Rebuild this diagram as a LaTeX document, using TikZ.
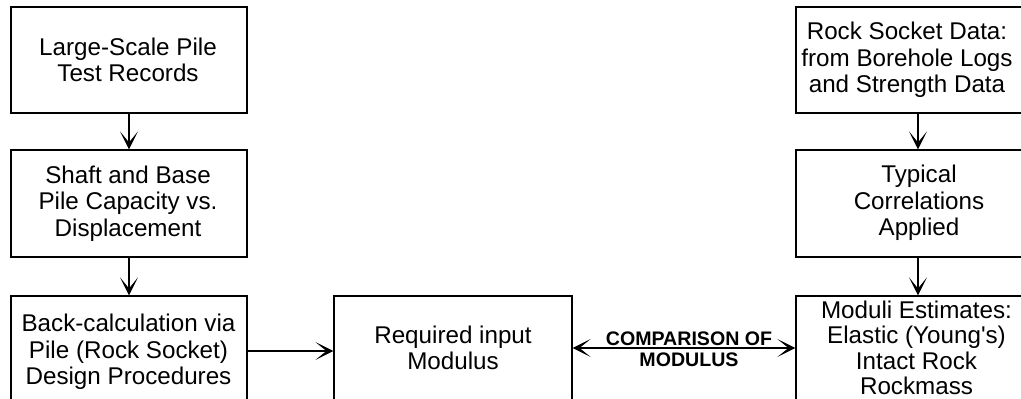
\documentclass[tikz,border=0pt]{standalone}
\usepackage{fontspec}
\setmainfont{Liberation Sans}
\usetikzlibrary{arrows.meta}
\begin{document}
\begin{tikzpicture}[x=1pt,y=-1pt,
  box/.style={draw, line width=1.2pt, inner sep=0pt},
  txt/.style={align=center, inner sep=0pt, font=\fontsize{24.2}{26.5}\selectfont},
  lbl/.style={align=center, inner sep=0pt, font=\fontsize{19.6}{21}\selectfont\bfseries},
  arr/.style={line width=1.2pt, -{Stealth[length=18pt,width=18pt,inset=11pt]}},
  darr/.style={line width=1.2pt, {Stealth[length=18pt,width=18pt,inset=11pt]}-{Stealth[length=18pt,width=18pt,inset=11pt]}}]
\useasboundingbox (0,0) rectangle (1021,399);
\clip (0,0) rectangle (1021,399);
% boxes
\node[box, minimum width=236pt, minimum height=106pt] (b1) at (129,60) {};
\node[box, minimum width=236pt, minimum height=107pt] (b2) at (129,203.5) {};
\node[box, minimum width=236pt, minimum height=110pt] (b3) at (129,351) {};
\node[box, minimum width=238pt, minimum height=110pt] (bm) at (453,351) {};
\node[box, minimum width=244pt, minimum height=106pt] (br1) at (918,60) {};
\node[box, minimum width=244pt, minimum height=107pt] (br2) at (918,203.5) {};
\node[box, minimum width=244pt, minimum height=110pt] (br3) at (918,351) {};
% texts
\node[txt] (t1) at (128,60) {Large-Scale Pile\\Test Records};
\node[txt] (t2) at (128,203.5) {Shaft and Base\\Pile Capacity vs.\\Displacement};
\node[txt] (t3) at (128.5,352) {Back-calculation via\\Pile (Rock Socket)\\Design Procedures};
\node[txt] (tm) at (453,347.7) {Required input\\Modulus};
\node[txt] (tr1) at (907,60) {Rock Socket Data:\\from Borehole Logs\\and Strength Data};
\node[txt] (tr2) at (919,203) {Typical\\Correlations\\Applied};
\node[txt, font=\fontsize{24.2}{25.5}\selectfont] (tr3) at (916.5,348) {Moduli Estimates:\\Elastic (Young\textquotesingle s)\\Intact Rock\\Rockmass};
\node[lbl] (cmp) at (689,349.5) {COMPARISON OF\\MODULUS};
% connectors
\coordinate (cy) at (0,348);
\draw[arr] (b1) -- (b2);
\draw[arr] (b2) -- (b3);
\draw[arr] (br1) -- (br2);
\draw[arr] (br2) -- (br3);
\draw[arr] (b3) -- (bm);
\draw[darr] (bm.east |- cy) -- (br3.west |- cy);
\end{tikzpicture}
\end{document}
